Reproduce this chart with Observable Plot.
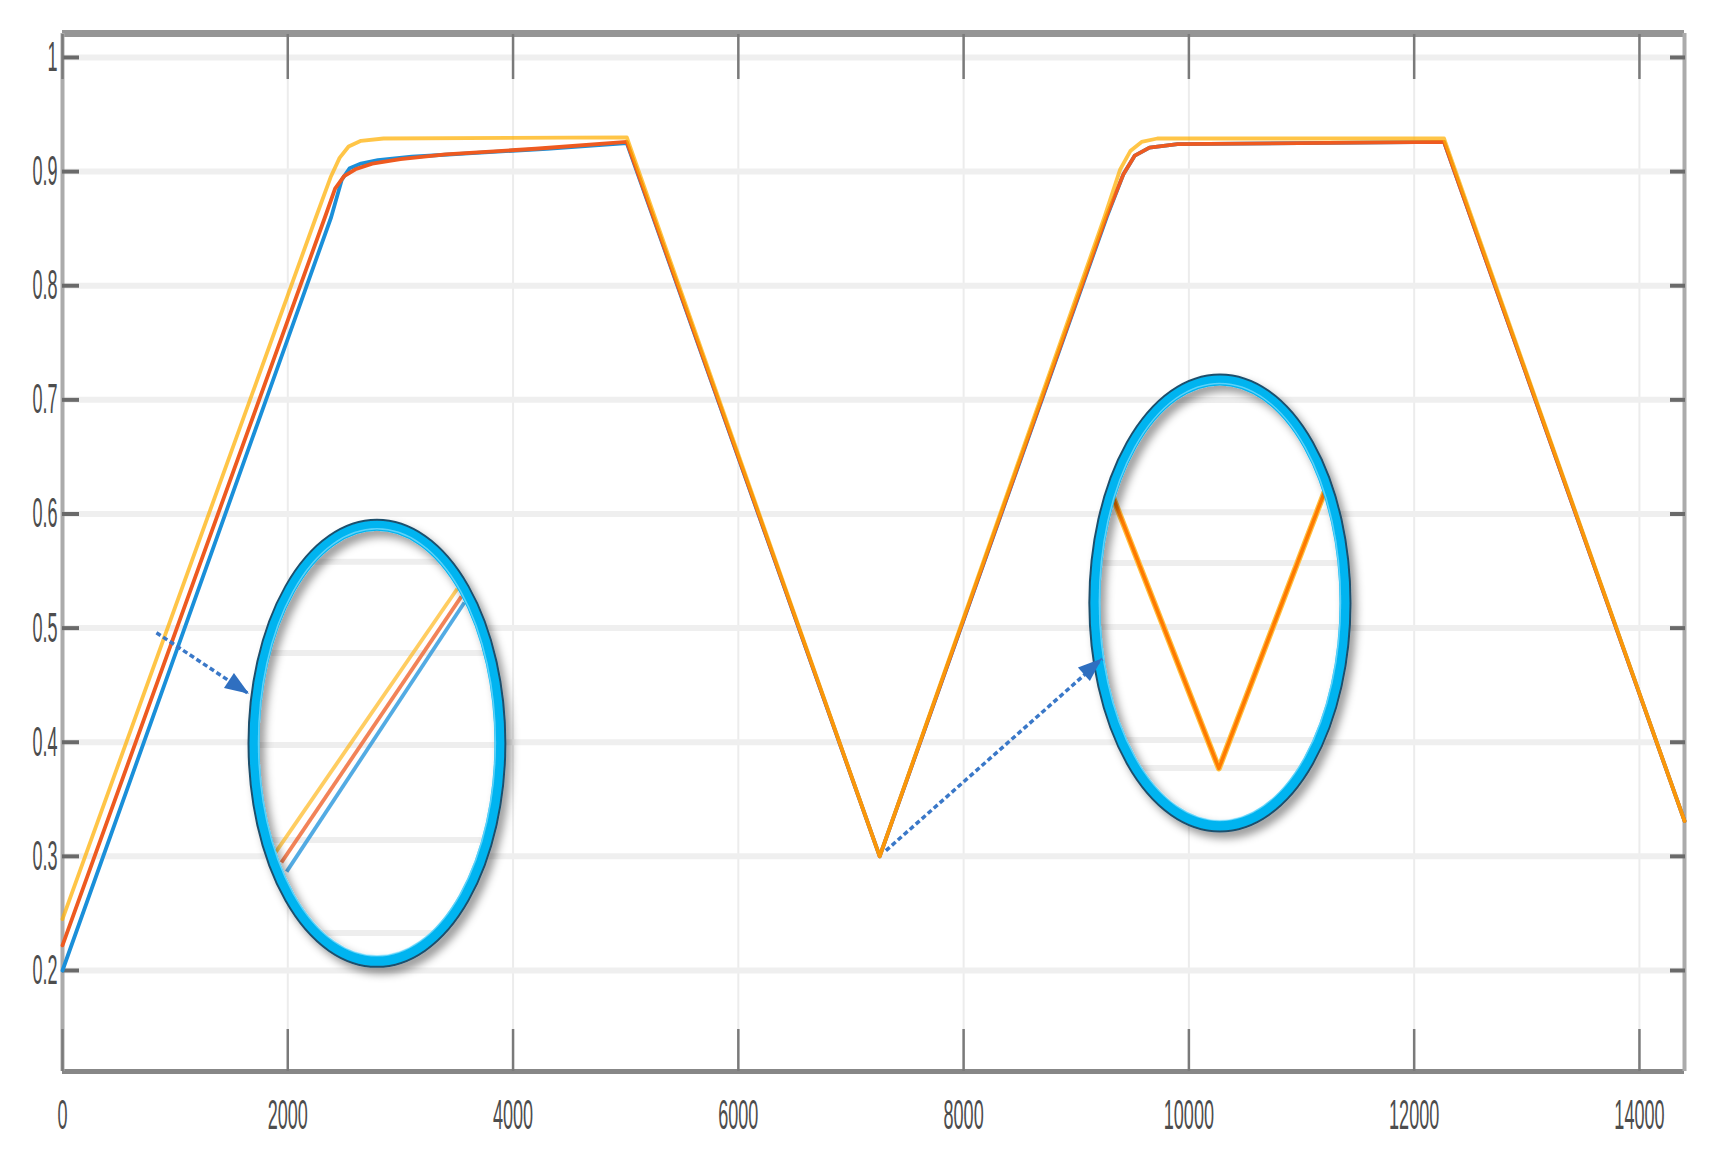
<!DOCTYPE html>
<html>
<head>
<meta charset="utf-8">
<script src="https://cdn.jsdelivr.net/npm/d3@7"></script>
<script src="https://cdn.jsdelivr.net/npm/@observablehq/plot@0.6"></script>
<style>
  html, body { margin: 0; padding: 0; background: #ffffff; }
  #chart { width: 1714px; height: 1157px; }
</style>
</head>
<body>
<div id="chart"></div>
<script>
// ---------- axes ----------
const xTicks = [0, 2000, 4000, 6000, 8000, 10000, 12000, 14000];
const yTicks = [0.2, 0.3, 0.4, 0.5, 0.6, 0.7, 0.8, 0.9, 1];
const xDomain = [0, 14400];
const yDomain = [0.1115, 1.021];

// ---------- series ----------
const blueX = [0, 2385, 2480, 2550, 2650, 2800, 3100, 3600, 4300, 5010, 7255, 9270, 9420, 9520, 9650, 9900, 12265, 14400];
const blueY = [0.200, 0.860, 0.893, 0.903, 0.907, 0.910, 0.913, 0.916, 0.920, 0.925, 0.300, 0.860, 0.898, 0.914, 0.921, 0.924, 0.926, 0.331];

const redX = [0, 2330, 2420, 2500, 2600, 2750, 3000, 3400, 4200, 5010, 7255, 9265, 9420, 9520, 9650, 9900, 12265, 14400];
const redY = [0.222, 0.860, 0.885, 0.896, 0.902, 0.907, 0.911, 0.915, 0.920, 0.926, 0.300, 0.860, 0.898, 0.914, 0.921, 0.924, 0.926, 0.331];

const goldX = [0, 2250, 2380, 2460, 2540, 2650, 2850, 5010, 7255, 9250, 9390, 9480, 9580, 9720, 12265, 14400];
const goldY = [0.245, 0.860, 0.895, 0.912, 0.922, 0.927, 0.929, 0.930, 0.300, 0.860, 0.902, 0.918, 0.926, 0.929, 0.929, 0.331];

// ---------- annotations ----------
const ellipseCx = [2796, 10280];
const ellipseCy = [0.3986, 0.5216];
const ellipseRx = [1087, 1106];
const ellipseRy = [0.1906, 0.195];
const insetBandsLeft = [0.5576, 0.4778, 0.3972, 0.3139, 0.2324];
const insetBandsRight = [0.6995, 0.601, 0.5567, 0.5006, 0.4016, 0.377];

const insetLineName = ["gold", "red", "blue"];
const insetLineX1 = [1895, 1944, 1990];
const insetLineY1 = [0.3040, 0.2947, 0.2866];
const insetLineX2 = [3505, 3542, 3568];
const insetLineY2 = [0.5345, 0.5278, 0.5224];

const insetVX = [9330, 10266, 11203];
const insetVY = [0.6137, 0.377, 0.619];

const arrowX1 = [834, 7310];
const arrowY1 = [0.496, 0.305];
const arrowX2 = [1660, 9232];
const arrowY2 = [0.442, 0.473];

// ---------- tables ----------
const toRows = (xs, ys) => xs.map((x, i) => ({x, y: ys[i]}));
const blue = toRows(blueX, blueY);
const red = toRows(redX, redY);
const gold = toRows(goldX, goldY);

const ellipses = ellipseCx.map((cx, i) => ({
  cx, cy: ellipseCy[i], rx: ellipseRx[i], ry: ellipseRy[i],
  bands: i === 0 ? insetBandsLeft : insetBandsRight
}));
const insetLines = insetLineName.map((name, i) => ({
  name, x1: insetLineX1[i], y1: insetLineY1[i], x2: insetLineX2[i], y2: insetLineY2[i]
}));
const insetV = toRows(insetVX, insetVY);
const arrows = arrowX1.map((x1, i) => ({x1, y1: arrowY1[i], x2: arrowX2[i], y2: arrowY2[i]}));

const colors = {blue: "#1a8fd9", red: "#ee5a20", gold: "#ffae00"};
const arrowColor = "#3a78c8";

function ellipseGeom(e, scales) {
  const cx = scales.x(e.cx), cy = scales.y(e.cy);
  const rx = Math.abs(scales.x(e.cx + e.rx) - cx);
  const ry = Math.abs(scales.y(e.cy + e.ry) - cy);
  return {cx, cy, rx, ry};
}

// white insets with their own magnified grid
function ellipseFill(index, scales) {
  const g = d3.create("svg:g");
  const defs = g.append("defs");
  ellipses.forEach((e, k) => {
    const {cx, cy, rx, ry} = ellipseGeom(e, scales);
    const id = "inset-clip-" + k;
    defs.append("clipPath").attr("id", id)
      .append("ellipse").attr("cx", cx).attr("cy", cy).attr("rx", rx).attr("ry", ry);
    g.append("ellipse").attr("cx", cx).attr("cy", cy).attr("rx", rx).attr("ry", ry).attr("fill", "#ffffff");
    const b = g.append("g").attr("clip-path", `url(#${id})`);
    e.bands.forEach(v => {
      b.append("line").attr("x1", cx - rx).attr("x2", cx + rx)
        .attr("y1", scales.y(v)).attr("y2", scales.y(v))
        .attr("stroke", "#eeeeee").attr("stroke-width", 6);
    });
  });
  return g.node();
}

// ring outlines with shadow
function ellipseRing(index, scales) {
  const g = d3.create("svg:g");
  const defs = g.append("defs");
  const f = defs.append("filter").attr("id", "ring-shadow")
    .attr("x", "-20%").attr("y", "-20%").attr("width", "140%").attr("height", "140%");
  f.append("feDropShadow").attr("dx", 5).attr("dy", 6).attr("stdDeviation", 4)
    .attr("flood-color", "#000000").attr("flood-opacity", 0.4);
  ellipses.forEach(e => {
    const {cx, cy, rx, ry} = ellipseGeom(e, scales);
    const r = g.append("g").attr("filter", "url(#ring-shadow)");
    r.append("ellipse").attr("cx", cx).attr("cy", cy).attr("rx", rx + 3).attr("ry", ry + 3)
      .attr("fill", "none").attr("stroke", "#1f4f6c").attr("stroke-width", 8);
    r.append("ellipse").attr("cx", cx).attr("cy", cy).attr("rx", rx).attr("ry", ry)
      .attr("fill", "none").attr("stroke", "#00b4f0").attr("stroke-width", 10);
    r.append("ellipse").attr("cx", cx).attr("cy", cy - 1).attr("rx", rx - 4).attr("ry", ry - 4)
      .attr("fill", "none").attr("stroke", "#9be6ff").attr("stroke-width", 1.5).attr("stroke-opacity", 0.6);
  });
  return g.node();
}

// filled arrow heads
function arrowHeads(index, scales) {
  const g = d3.create("svg:g");
  arrows.forEach(a => {
    const x1 = scales.x(a.x1), y1 = scales.y(a.y1);
    const x2 = scales.x(a.x2), y2 = scales.y(a.y2);
    const ang = Math.atan2(y2 - y1, x2 - x1);
    const L = 24, W = 9;
    const bx = x2 - L * Math.cos(ang), by = y2 - L * Math.sin(ang);
    const px = -Math.sin(ang) * W, py = Math.cos(ang) * W;
    g.append("path")
      .attr("d", `M${x2},${y2}L${bx + px},${by + py}L${bx - px},${by - py}Z`)
      .attr("fill", "#2f6fc0");
  });
  return g.node();
}

const fontFamily = "'Liberation Sans', 'DejaVu Sans', Arial, sans-serif";

const chart = Plot.plot({
  width: 1714,
  height: 1157,
  marginLeft: 62,
  marginRight: 30,
  marginTop: 33,
  marginBottom: 86,
  style: {background: "#ffffff", fontFamily},
  x: {domain: xDomain},
  y: {domain: yDomain},
  marks: [
    // grid
    Plot.ruleX(xTicks.filter(d => d > 0), {stroke: "#ececec", strokeWidth: 2}),
    Plot.ruleY(yTicks, {stroke: "#efefef", strokeWidth: 6}),
    // frame
    Plot.ruleY([yDomain[1]], {stroke: "#959595", strokeWidth: 7}),
    Plot.ruleY([yDomain[0]], {stroke: "#878787", strokeWidth: 5}),
    Plot.ruleX([xDomain[0]], {stroke: "#ababab", strokeWidth: 4}),
    Plot.ruleX([xDomain[1]], {stroke: "#ababab", strokeWidth: 4}),
    // axes (MATLAB style, ticks inside)
    Plot.axisY(yTicks, {anchor: "left", tickSize: -17, tickPadding: 22, stroke: "#6a6a6a", strokeWidth: 4,
      fontSize: 42, fill: "#4d4d4d", label: null, tickFormat: d => String(d)}),
    Plot.axisY(yTicks, {anchor: "right", tickSize: -15, tickPadding: 0, stroke: "#6a6a6a", strokeWidth: 4,
      label: null, tickFormat: () => ""}),
    Plot.axisX(xTicks, {anchor: "bottom", tickSize: -42, tickPadding: 70, stroke: "#7a7a7a", strokeWidth: 2.5,
      fontSize: 42, fill: "#4d4d4d", label: null, tickFormat: d => String(d)}),
    Plot.axisX(xTicks, {anchor: "top", tickSize: -45, tickPadding: 0, stroke: "#7a7a7a", strokeWidth: 2.5,
      label: null, tickFormat: () => ""}),
    // data series
    Plot.line(blue, {x: "x", y: "y", stroke: colors.blue, strokeWidth: 3.8}),
    Plot.line(red, {x: "x", y: "y", stroke: colors.red, strokeWidth: 3.8}),
    Plot.line(gold, {x: "x", y: "y", stroke: colors.gold, strokeWidth: 3.8, strokeOpacity: 0.72}),
    // magnified insets
    ellipseFill,
    Plot.link(insetLines, {x1: "x1", y1: "y1", x2: "x2", y2: "y2",
      stroke: d => colors[d.name], strokeWidth: 3.8,
      strokeOpacity: d => d.name === "gold" ? 0.62 : 0.75}),
    Plot.line(insetV, {x: "x", y: "y", stroke: "#ffc040", strokeWidth: 6}),
    Plot.line(insetV, {x: "x", y: "y", stroke: "#ff7a00", strokeWidth: 3.5}),
    ellipseRing,
    // arrows
    Plot.link(arrows, {x1: "x1", y1: "y1", x2: "x2", y2: "y2", stroke: arrowColor, strokeWidth: 3.5,
      strokeDasharray: "5,3"}),
    arrowHeads
  ]
});

// narrow, tall tick labels like the original
d3.select(chart).selectAll('g[aria-label$="tick label"] text').each(function () {
  const t = this.getAttribute("transform") || "";
  this.setAttribute("transform", t + " scale(0.43,1)");
});

document.getElementById("chart").appendChild(chart);
</script>
</body>
</html>
